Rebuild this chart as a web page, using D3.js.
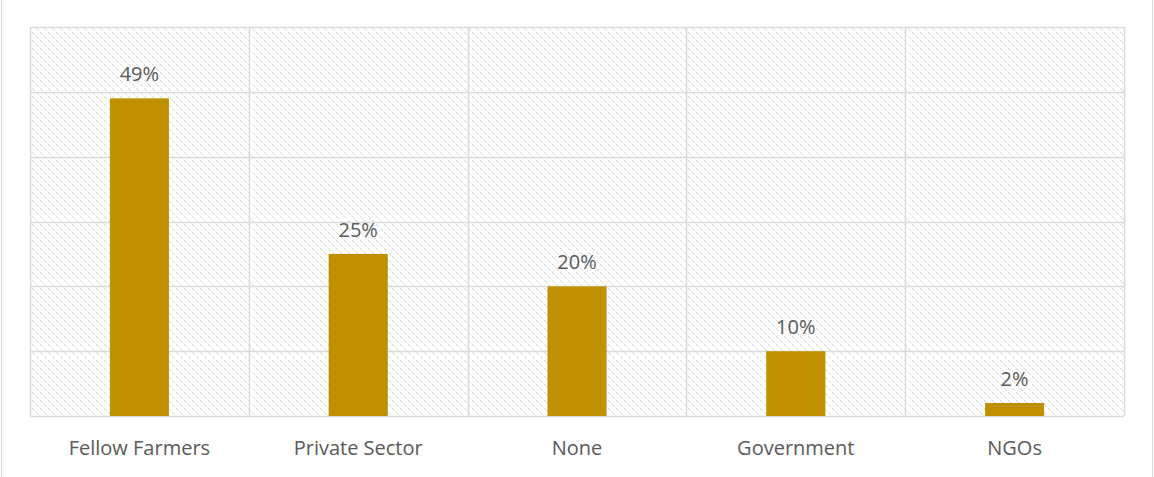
<!DOCTYPE html>
<html>
<head>
<meta charset="utf-8">
<script src="https://cdn.jsdelivr.net/npm/d3@7"></script>
<style>
  body { margin: 0; background: #fff; }
  svg text { font-family: "Open Sans", sans-serif; fill: #595959; }
</style>
</head>
<body>
<svg width="1154" height="477"></svg>
<script>
// chart data
var categories = ["Fellow Farmers", "Private Sector", "None", "Government", "NGOs"];
var values = [49, 25, 20, 10, 2];
var yTicks = [0, 10, 20, 30, 40, 50, 60];

var svg = d3.select("svg");
var margin = { left: 30, right: 30, top: 27, bottom: 61 };
var width = 1154, height = 477;

// hatched background pattern
var defs = svg.append("defs");
var pat = defs.append("pattern")
    .attr("id", "hatch")
    .attr("patternUnits", "userSpaceOnUse")
    .attr("width", 8)
    .attr("height", 8);
pat.append("rect").attr("width", 8).attr("height", 8).attr("fill", "#fff");
[0, 1, 2, 4, 5, 6].forEach(function(i) {
    pat.append("rect")
        .attr("x", i).attr("y", i)
        .attr("width", 1).attr("height", 1)
        .attr("fill", "#d6d6d6");
});

// outer chart border (left / right)
svg.append("line").attr("x1", 1.5).attr("x2", 1.5).attr("y1", 0).attr("y2", height)
    .attr("stroke", "#d9d9d9");
svg.append("line").attr("x1", width - 1.5).attr("x2", width - 1.5).attr("y1", 0).attr("y2", height)
    .attr("stroke", "#d9d9d9");

var x = d3.scaleBand()
    .domain(categories)
    .range([margin.left, width - margin.right])
    .paddingInner(0)
    .paddingOuter(0);

var y = d3.scaleLinear()
    .domain([0, 60])
    .range([height - margin.bottom, margin.top]);

svg.append("rect")
    .attr("x", margin.left)
    .attr("y", margin.top)
    .attr("width", width - margin.left - margin.right)
    .attr("height", height - margin.top - margin.bottom)
    .attr("fill", "url(#hatch)");

// horizontal gridlines
svg.selectAll(".hgrid")
    .data(yTicks)
    .enter().append("line")
    .attr("class", "hgrid")
    .attr("x1", margin.left)
    .attr("x2", width - margin.right)
    .attr("y1", d => Math.round(y(d)) + 0.5)
    .attr("y2", d => Math.round(y(d)) + 0.5)
    .attr("stroke", "#d9d9d9")
    .attr("stroke-width", 1.6);

// vertical gridlines at category boundaries
var bounds = categories.map(c => x(c)).concat([x.range()[1]]);
svg.selectAll(".vgrid")
    .data(bounds)
    .enter().append("line")
    .attr("class", "vgrid")
    .attr("x1", d => Math.round(d) + 0.5)
    .attr("x2", d => Math.round(d) + 0.5)
    .attr("y1", margin.top)
    .attr("y2", height - margin.bottom)
    .attr("stroke", "#d9d9d9")
    .attr("stroke-width", 1.6);

// bars
var barW = x.bandwidth() * 0.27;
svg.selectAll(".bar")
    .data(values)
    .enter().append("rect")
    .attr("class", "bar")
    .attr("x", (d, i) => x(categories[i]) + x.bandwidth() / 2 - barW / 2)
    .attr("y", d => y(d))
    .attr("width", barW)
    .attr("height", d => y(0) - y(d))
    .attr("fill", "#bf9000");

// data labels
svg.selectAll(".lbl")
    .data(values)
    .enter().append("text")
    .attr("class", "lbl")
    .attr("x", (d, i) => x(categories[i]) + x.bandwidth() / 2)
    .attr("y", d => y(d) - 17)
    .attr("text-anchor", "middle")
    .style("font-size", "20px")
    .text(d => d + "%");

// category labels
svg.selectAll(".cat")
    .data(categories)
    .enter().append("text")
    .attr("class", "cat")
    .attr("x", d => x(d) + x.bandwidth() / 2)
    .attr("y", 455)
    .attr("text-anchor", "middle")
    .style("font-size", "20px")
    .text(d => d);
</script>
</body>
</html>
